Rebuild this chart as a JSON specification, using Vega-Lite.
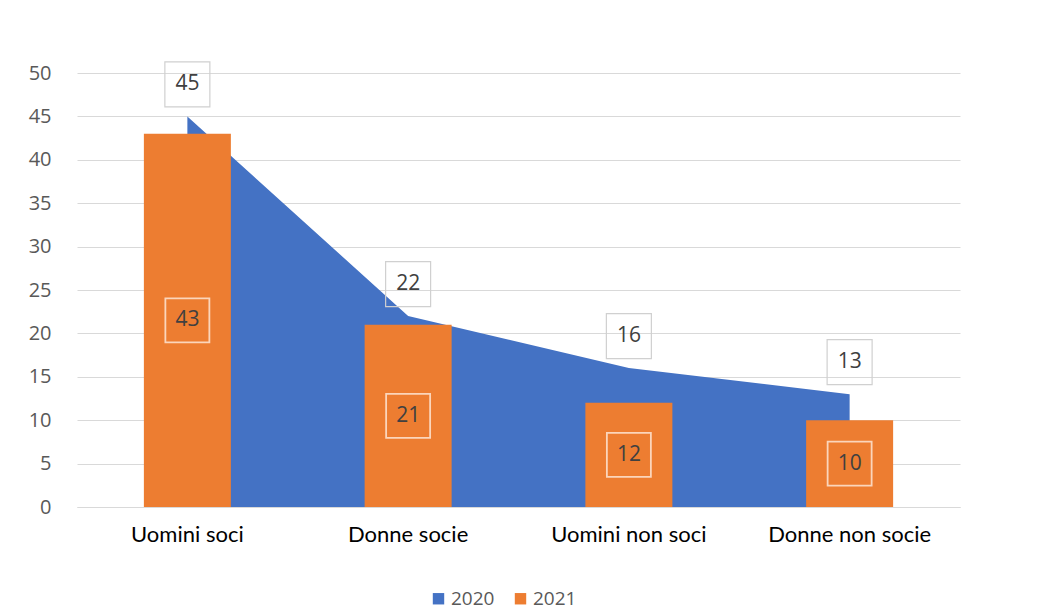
{
  "$schema": "https://vega.github.io/schema/vega-lite/v6.json",
  "width": 883,
  "height": 434,
  "autosize": "none",
  "padding": {"left": 77, "top": 73, "right": 92, "bottom": 106},
  "background": "white",
  "config": {
    "view": {"stroke": null},
    "font": "Open Sans"
  },
  "data": {
    "values": [
      {"categoria": "Uomini soci", "anno": "2020", "valore": 45},
      {"categoria": "Donne socie", "anno": "2020", "valore": 22},
      {"categoria": "Uomini non soci", "anno": "2020", "valore": 16},
      {"categoria": "Donne non socie", "anno": "2020", "valore": 13},
      {"categoria": "Uomini soci", "anno": "2021", "valore": 43},
      {"categoria": "Donne socie", "anno": "2021", "valore": 21},
      {"categoria": "Uomini non soci", "anno": "2021", "valore": 12},
      {"categoria": "Donne non socie", "anno": "2021", "valore": 10}
    ]
  },
  "encoding": {
    "x": {
      "field": "categoria",
      "type": "nominal",
      "sort": ["Uomini soci", "Donne socie", "Uomini non soci", "Donne non socie"],
      "scale": {"paddingInner": 0, "paddingOuter": 0},
      "axis": {
        "title": null,
        "labelAngle": 0,
        "labelFont": "Lato",
        "labelFontSize": 22,
        "labelColor": "#000000",
        "labelPadding": 17,
        "domain": true,
        "domainColor": "#d9d9d9",
        "ticks": false
      }
    }
  },
  "layer": [
    {
      "transform": [{"filter": "datum.anno === '2020'"}],
      "mark": {"type": "area", "interpolate": "linear", "opacity": 1},
      "encoding": {
        "y": {
          "field": "valore",
          "type": "quantitative",
          "scale": {"domain": [0, 50]},
          "axis": {
            "title": null,
            "values": [0, 5, 10, 15, 20, 25, 30, 35, 40, 45, 50],
            "labelFontSize": 20,
            "labelColor": "#595959",
            "labelPadding": 26,
            "domain": false,
            "ticks": false,
            "gridColor": "#d9d9d9"
          }
        },
        "color": {
          "field": "anno",
          "type": "nominal",
          "scale": {"domain": ["2020", "2021"], "range": ["#4472c4", "#ed7d31"]},
          "legend": {
            "title": null,
            "orient": "none",
            "legendX": 352,
            "legendY": 516,
            "direction": "horizontal",
            "symbolType": "square",
            "symbolSize": 130,
            "labelFontSize": 19,
            "labelColor": "#595959",
            "labelOffset": 3,
            "columnPadding": 16
          }
        }
      }
    },
    {
      "transform": [{"filter": "datum.anno === '2021'"}],
      "mark": {"type": "bar", "size": 87},
      "encoding": {
        "y": {"field": "valore", "type": "quantitative"},
        "color": {"field": "anno", "type": "nominal"}
      }
    },
    {
      "transform": [{"filter": "datum.anno === '2020'"}],
      "mark": {"type": "point", "shape": "square", "filled": false, "stroke": "#d0d0d0", "strokeWidth": 1.2, "opacity": 1},
      "encoding": {
        "y": {"field": "valore", "type": "quantitative"},
        "yOffset": {"value": -32},
        "size": {"value": 2025}
      }
    },
    {
      "transform": [{"filter": "datum.anno === '2020'"}],
      "mark": {"type": "text", "fontSize": 21, "color": "#404040", "baseline": "middle"},
      "encoding": {
        "y": {"field": "valore", "type": "quantitative"},
        "yOffset": {"value": -32},
        "text": {"field": "valore", "type": "quantitative"}
      }
    },
    {
      "transform": [
        {"filter": "datum.anno === '2021'"},
        {"calculate": "datum.valore / 2", "as": "meta"}
      ],
      "mark": {"type": "point", "shape": "square", "filled": false, "stroke": "#fbd5bb", "strokeWidth": 1.8, "opacity": 1},
      "encoding": {
        "y": {"field": "meta", "type": "quantitative"},
        "size": {"value": 1936}
      }
    },
    {
      "transform": [
        {"filter": "datum.anno === '2021'"},
        {"calculate": "datum.valore / 2", "as": "meta"}
      ],
      "mark": {"type": "text", "fontSize": 21, "color": "#404040", "baseline": "middle"},
      "encoding": {
        "y": {"field": "meta", "type": "quantitative"},
        "text": {"field": "valore", "type": "quantitative"}
      }
    }
  ]
}
